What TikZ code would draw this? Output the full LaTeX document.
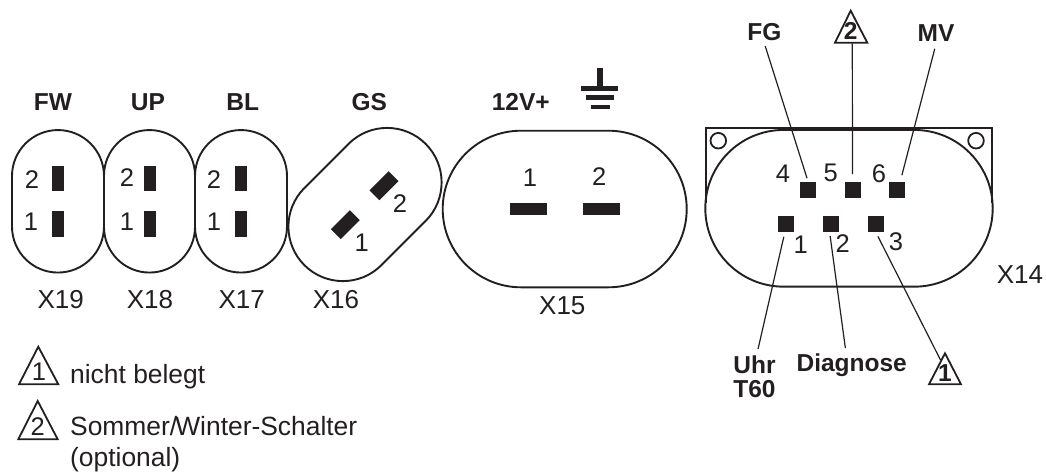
\documentclass[tikz,border=0pt]{standalone}
\usepackage{fontspec}
\setmainfont{Liberation Sans}
\usetikzlibrary{calc}
\definecolor{ink}{HTML}{231F20}
\tikzset{
  capsule/.style={draw=ink,line width=1.9pt,fill=none,inner sep=0pt,outer sep=0pt},
  pin/.style={fill=ink,inner sep=0pt,outer sep=0pt},
  num/.style={text=ink,inner sep=1pt,font=\fontsize{25.5}{28}\selectfont},
  caption/.style={text=ink,inner sep=2pt,font=\fontsize{26}{28}\selectfont},
  tag/.style={text=ink,inner sep=2pt,font=\fontsize{24.5}{24}\selectfont\bfseries},
  legend/.style={text=ink,inner sep=0pt,anchor=base west,font=\fontsize{26.4}{31}\selectfont},
  lead/.style={draw=ink,line width=1.2pt},
  tri/.style={draw=ink,line width=1.8pt,line join=miter},
}
\begin{document}
\begin{tikzpicture}[x=1pt,y=-1pt]
\useasboundingbox (0,0) rectangle (1046,472);
% X19 X18 X17
\node[capsule,minimum width=92pt,minimum height=142.5pt,rounded corners=46pt] (c19) at (58,201.3) {};
\node[capsule,minimum width=91pt,minimum height=142.5pt,rounded corners=45.5pt] (c18) at (149.5,201.3) {};
\node[capsule,minimum width=92pt,minimum height=142.5pt,rounded corners=46pt] (c17) at (241,201.3) {};
\foreach \n/\x in {19/58.2,18/149.9,17/241}{
  \node[pin,minimum width=11.7pt,minimum height=25.5pt] (p\n b) at (\x,178.4) {};
  \node[pin,minimum width=11.7pt,minimum height=25.5pt] (p\n a) at (\x,224) {};
}
\node[num] (n19b) at (32,180) {2};
\node[num] (n19a) at (31,222) {1};
\node[num] (n18b) at (127,178) {2};
\node[num] (n18a) at (127,222) {1};
\node[num] (n17b) at (214,180) {2};
\node[num] (n17a) at (214,222) {1};
\node[tag] (tFW) at (53,101.7) {FW};
\node[tag] (tUP) at (148,101.7) {UP};
\node[tag] (tBL) at (242.7,101.7) {BL};
\node[tag] (tGS) at (369.3,101.7) {GS};
\node[caption] (x19) at (60.7,300) {X19};
\node[caption] (x18) at (150,300) {X18};
\node[caption] (x17) at (241.7,300) {X17};
\node[caption] (x16) at (336,300) {X16};
% X16
\node[capsule,rotate=45,minimum width=171.5pt,minimum height=109pt,rounded corners=54.5pt] (c16) at (365,204.5) {};
\node[pin,rotate=45,minimum width=27pt,minimum height=14pt] (p16b) at (384,185.7) {};
\node[pin,rotate=45,minimum width=27pt,minimum height=14pt] (p16a) at (345.3,224.7) {};
\node[num] (n16b) at (400,204) {2};
\node[num] (n16a) at (361.7,242.3) {1};
% X15
\node[capsule,minimum width=244pt,minimum height=156.6pt,rounded corners=78.3pt] (c15) at (564.7,209) {};
\node[pin,minimum width=37.3pt,minimum height=11.7pt] (p15a) at (528.7,209.2) {};
\node[pin,minimum width=37.3pt,minimum height=11.7pt] (p15b) at (601.7,209.2) {};
\node[num] (n15a) at (530,177.3) {1};
\node[num] (n15b) at (599.3,176.7) {2};
\node[tag] (t12) at (520.7,101.7) {12V+};
\node[caption] (x15) at (562.3,306) {X15};
% ground
\fill[ink] (597.3,68) rectangle (602.7,86.5);
\fill[ink] (581,86) rectangle (618.3,90.7);
\fill[ink] (585.7,95) rectangle (614,100);
\fill[ink] (590.7,104.5) rectangle (610,109.3);
% X14
\draw[capsule] (705.7,203) -- (705.7,128.3) -- (992.3,128.3) -- (992.3,203);
\node[capsule,minimum width=287.4pt,minimum height=156.7pt,rounded corners=78.3pt] (c14) at (849,208.3) {};
\draw[draw=ink,line width=1.8pt] (718.3,140.7) circle (7.8pt);
\draw[draw=ink,line width=1.8pt] (976,140.7) circle (7.8pt);
\foreach \n/\x/\y in {4/808.2/190,5/852.5/190,6/897.2/190,1/786.3/224,2/831/224,3/875.7/224}{
  \node[pin,minimum size=16pt] (p\n) at (\x,\y) {};
}
\node[num] (n4) at (783,173.3) {4};
\node[num] (n5) at (830.7,173.3) {5};
\node[num] (n6) at (879,173.3) {6};
\node[num] (n1) at (800.7,245) {1};
\node[num] (n2) at (842.7,243.3) {2};
\node[num] (n3) at (896,241.7) {3};
\node[tag] (tFG) at (764.3,32.3) {FG};
\node[tag] (tMV) at (936,33.3) {MV};
\node[tag,align=left] (tUhr) at (754.5,377) {Uhr\\T60};
\node[tag] (tDiag) at (851.7,365.7) {Diagnose};
\node[caption] (x14) at (1020,275) {X14};
% triangle marks
\draw[tri] (850.7,10.7) -- (867.3,42.7) -- (835,42.7) -- cycle;
\node[tag,inner sep=0pt] (m2) at (850.7,30.7) {2};
\draw[tri] (945,353.3) -- (961,384.3) -- (929,384.3) -- cycle;
\node[tag,inner sep=0pt] (m1) at (945,373) {1};
\coordinate (m2foot) at (852.3,43.3);
\coordinate (m1side) at (940.5,360);
% leads
\draw[lead,shorten <=3pt,shorten >=4pt] (tFG.south) -- (p4.north);
\draw[lead,shorten >=8pt] (m2foot) -- (p5.north);
\draw[lead,shorten <=5pt,shorten >=7pt] (tMV.south) -- (p6.70);
\draw[lead,shorten <=5pt,shorten >=5pt] (p1.-100) -- (tUhr.84);
\draw[lead,shorten <=4pt,shorten >=4pt] (p2.-100) -- (tDiag.113);
\draw[lead,shorten <=5pt] (p3.south) -- (m1side);
% legend
\draw[tri] (38.3,346.7) -- (58.3,384.3) -- (19,384.3) -- cycle;
\node[num] (l1) at (39,371.7) {1};
\draw[tri] (37.7,401) -- (57.7,439.3) -- (18.3,439.3) -- cycle;
\node[num] (l2) at (37.7,427) {2};
\node[legend] (ltext1) at (70,383) {nicht belegt};
\node[legend] (ltext2) at (70,435) {Sommer/\kern-2pt Winter-Schalter};
\node[legend] (ltext3) at (70,466) {(optional)};
\end{tikzpicture}
\end{document}
